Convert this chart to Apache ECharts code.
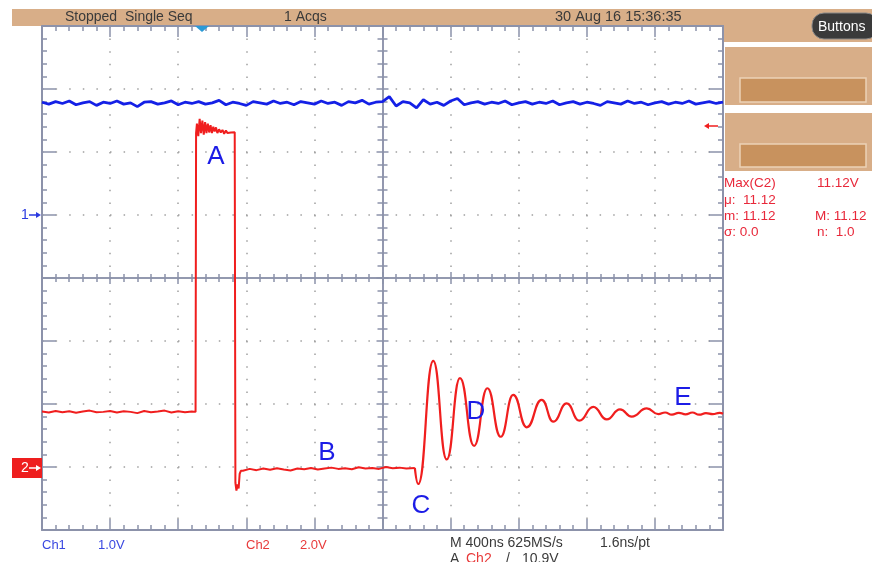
<!DOCTYPE html>
<html>
<head>
<meta charset="utf-8">
<script src="https://cdn.jsdelivr.net/npm/echarts@6/dist/echarts.min.js"></script>
<style>
  html, body { margin: 0; padding: 0; background: #fff; }
  #scope { width: 872px; height: 562px; }
</style>
</head>
<body>
<div id="scope"></div>
<script>
// horizontal: 400 ns/div, 10 div ; vertical: 8 div
const timeTicks = [0, 400, 800, 1200, 1600, 2000, 2400, 2800, 3200, 3600, 4000];
const sampleStep = 40; // ns between Ch1 samples

// Ch1 (1.0 V/div), volts, one value per 40 ns
const ch1Values = [
    1.79, 1.76, 1.80, 1.77, 1.81, 1.75, 1.78, 1.80, 1.74, 1.79,
    1.77, 1.81, 1.76, 1.78, 1.72, 1.79, 1.80, 1.76, 1.78, 1.81,
    1.75, 1.79, 1.77, 1.80, 1.76, 1.78, 1.82, 1.75, 1.79, 1.77,
    1.74, 1.80, 1.78, 1.76, 1.81, 1.77, 1.79, 1.75, 1.80, 1.78,
    1.76, 1.81, 1.77, 1.79, 1.74, 1.80, 1.78, 1.82, 1.76, 1.79,
    1.80, 1.88, 1.73, 1.80, 1.78, 1.70, 1.83, 1.76, 1.79, 1.74,
    1.81, 1.85, 1.75, 1.78, 1.80, 1.76, 1.79, 1.77, 1.81, 1.75,
    1.78, 1.80, 1.76, 1.79, 1.77, 1.81, 1.75, 1.78, 1.80, 1.76,
    1.79, 1.77, 1.74, 1.80, 1.78, 1.76, 1.81, 1.77, 1.79, 1.75,
    1.78, 1.80, 1.76, 1.79, 1.77, 1.81, 1.76, 1.78, 1.80, 1.77, 1.79
];

// Ch2 (2.0 V/div), [ns, V] : level before the pulse
const ch2Before = [
    [0, 1.76], [40, 1.73], [80, 1.78], [120, 1.74], [160, 1.77], [200, 1.72],
    [240, 1.76], [280, 1.79], [320, 1.74], [360, 1.75], [400, 1.78], [440, 1.73],
    [480, 1.77], [520, 1.75], [560, 1.71], [600, 1.78], [640, 1.74], [680, 1.76],
    [720, 1.79], [760, 1.73], [800, 1.77], [840, 1.74], [880, 1.76], [902, 1.75]
];
// pulse top (A) and the fall with its undershoot
const ch2Pulse = [
    [905, 10.6], [910, 10.9], [918, 10.5], [926, 11.05], [934, 10.6], [942, 11.0],
    [950, 10.55], [958, 10.95], [966, 10.6], [974, 10.9], [982, 10.62], [990, 10.85],
    [998, 10.6], [1006, 10.8], [1014, 10.65], [1022, 10.78], [1030, 10.6], [1040, 10.72],
    [1050, 10.62], [1060, 10.7], [1070, 10.58], [1080, 10.68], [1090, 10.6], [1100, 10.66],
    [1110, 10.62], [1120, 10.65], [1132, 10.63], [1136, -0.5], [1142, -0.75], [1149, -0.55],
    [1155, -0.68], [1161, -0.22], [1168, -0.12]
];
// flat level after the pulse (B)
const ch2After = [
    [1180, -0.12], [1220, -0.06], [1260, -0.10], [1300, -0.05], [1340, -0.09], [1380, -0.04],
    [1420, -0.08], [1460, -0.11], [1500, -0.05], [1540, -0.07], [1580, -0.03], [1620, -0.08],
    [1660, -0.05], [1700, -0.02], [1740, -0.06], [1780, -0.04], [1820, -0.07], [1860, -0.01],
    [1900, -0.05], [1940, -0.03], [1980, -0.06], [2020, 0.0], [2060, -0.04], [2100, -0.02],
    [2140, -0.05], [2190, -0.03]
];
// dip (C), ringing extremes (D) and settled level (E)
const ch2Ring = [
    [2190, -0.03], [2210, -0.54], [2298, 3.37], [2377, 0.24], [2455, 2.82], [2538, 0.67],
    [2616, 2.50], [2694, 0.96], [2768, 2.29], [2847, 1.26], [2935, 2.13], [3003, 1.44],
    [3082, 2.02], [3156, 1.47], [3238, 1.91], [3317, 1.51], [3395, 1.83], [3464, 1.60],
    [3552, 1.86], [3620, 1.68], [3660, 1.73], [3700, 1.66], [3740, 1.72], [3780, 1.67],
    [3820, 1.73], [3860, 1.66], [3900, 1.71], [3940, 1.68], [3980, 1.72], [4000, 1.69]
];

const ch1Data = ch1Values.map((v, i) => [i * sampleStep, v]);

const FONT = '"Liberation Sans", Arial, sans-serif';
const AXIS = '#8c92aa';
const RED = '#f01e1e';
const BLUE = '#1420e6';
const TAN = '#d8ae88';

function frameX(position, offset, inside, majorLen, minorLen, width) {
    return {
        type: 'value', min: 0, max: 4000, interval: 400, position: position, offset: offset,
        axisLine: { show: true, onZero: false, lineStyle: { color: AXIS, width: width } },
        axisTick: { show: true, inside: inside, length: majorLen, lineStyle: { color: AXIS, width: 1.5 } },
        minorTick: { show: true, splitNumber: 5, length: minorLen, lineStyle: { color: AXIS, width: 1.5 } },
        axisLabel: { show: false },
        splitLine: { show: false }
    };
}

function frameY(position, offset, inside, majorLen, minorLen, width) {
    return {
        type: 'value', min: -4, max: 4, interval: 1, position: position, offset: offset,
        axisLine: { show: true, onZero: false, lineStyle: { color: AXIS, width: width } },
        axisTick: { show: true, inside: inside, length: majorLen, lineStyle: { color: AXIS, width: 1.5 } },
        minorTick: { show: true, splitNumber: 5, length: minorLen, lineStyle: { color: AXIS, width: 1.5 } },
        axisLabel: { show: false },
        splitLine: { show: false }
    };
}

const xMain = frameX('bottom', 0, true, 11, 5, 2);
xMain.splitLine = { show: true, lineStyle: { color: '#a0a0a0', width: 1.5, type: [1.5, 11.1] } };
const yMain = frameY('left', 0, true, 14, 5, 2);
yMain.splitLine = { show: true, lineStyle: { color: '#a0a0a0', width: 1.5, type: [1.5, 12.1] } };

function txt(x, y, text, color, size, extra) {
    return {
        type: 'text', silent: true, z: 10,
        style: Object.assign({
            x: x, y: y, text: text, fill: color,
            font: size + 'px ' + FONT, textAlign: 'left', textVerticalAlign: 'middle'
        }, extra || {})
    };
}

const option = {
    animation: false,
    backgroundColor: '#ffffff',
    grid: { left: 42, top: 26, width: 681, height: 504 },
    xAxis: [
        xMain,
        frameX('top', 0, true, 11, 5, 2),
        frameX('bottom', -252, true, 6, 4, 1.5),
        frameX('bottom', -252, false, 6, 4, 1.5)
    ],
    yAxis: [
        yMain,
        frameY('right', 0, true, 14, 5, 2),
        frameY('left', -340.5, true, 6, 5, 1.5),
        frameY('left', -340.5, false, 6, 5, 1.5),
        { type: 'value', min: -5, max: 3, show: false },
        { type: 'value', min: -2, max: 14, show: false }
    ],
    series: [
        {
            name: 'Ch1', type: 'line', xAxisIndex: 0, yAxisIndex: 4, data: ch1Data,
            showSymbol: false, lineStyle: { color: BLUE, width: 2.8 }, z: 3
        },
        {
            name: 'Ch2', type: 'line', xAxisIndex: 0, yAxisIndex: 5,
            data: ch2Before.concat(ch2Pulse, ch2After),
            showSymbol: false, lineStyle: { color: RED, width: 2 }, z: 4
        },
        {
            name: 'Ch2 ring', type: 'line', xAxisIndex: 0, yAxisIndex: 5, data: ch2Ring,
            smooth: 0.5, smoothMonotone: 'x', showSymbol: false,
            lineStyle: { color: RED, width: 2.2 }, z: 4
        }
    ],
    graphic: [
        // status bar and side panel
        { type: 'rect', silent: true, shape: { x: 12, y: 9, width: 860, height: 17 }, style: { fill: TAN } },
        { type: 'rect', silent: true, shape: { x: 723, y: 9, width: 149, height: 33 }, style: { fill: TAN } },
        { type: 'rect', silent: true, shape: { x: 725, y: 47, width: 147, height: 58 }, style: { fill: TAN } },
        { type: 'rect', silent: true, shape: { x: 725, y: 113, width: 147, height: 58 }, style: { fill: TAN } },
        { type: 'rect', silent: true, shape: { x: 740, y: 78, width: 126, height: 24 }, style: { fill: '#c8925e', stroke: '#ecd2b6', lineWidth: 1.5 } },
        { type: 'rect', silent: true, shape: { x: 740, y: 144, width: 126, height: 23 }, style: { fill: '#c8925e', stroke: '#ecd2b6', lineWidth: 1.5 } },
        { type: 'rect', silent: true, shape: { x: 812, y: 13, width: 66, height: 26, r: 12 }, style: { fill: '#3a3a3a', stroke: '#888', lineWidth: 1 } },
        txt(818, 27, 'Buttons', '#ffffff', 14),
        txt(65, 17, 'Stopped  Single Seq', '#3a3a3a', 14),
        txt(284, 17, '1 Acqs', '#3a3a3a', 14),
        txt(555, 17, '30 Aug 16 15:36:35', '#3a3a3a', 14.5),
        // trigger position marker
        { type: 'polygon', silent: true, z: 10, shape: { points: [[195, 26], [209, 26], [202, 32]] }, style: { fill: '#2b9ad6' } },
        // channel markers
        txt(21, 215, '1', '#2a3ae0', 14),
        { type: 'line', silent: true, z: 10, shape: { x1: 29, y1: 215, x2: 37, y2: 215 }, style: { stroke: '#2a3ae0', lineWidth: 1.5 } },
        { type: 'polygon', silent: true, z: 10, shape: { points: [[36, 212], [41, 215], [36, 218]] }, style: { fill: '#2a3ae0' } },
        { type: 'rect', silent: true, z: 10, shape: { x: 12, y: 458, width: 30, height: 20 }, style: { fill: '#ee1e1e' } },
        txt(21, 468, '2', '#ffffff', 14),
        { type: 'line', silent: true, z: 11, shape: { x1: 29, y1: 468, x2: 37, y2: 468 }, style: { stroke: '#ffffff', lineWidth: 1.5 } },
        { type: 'polygon', silent: true, z: 11, shape: { points: [[36, 465], [41, 468], [36, 471]] }, style: { fill: '#ffffff' } },
        // trigger level marker
        { type: 'line', silent: true, z: 10, shape: { x1: 708, y1: 126, x2: 718, y2: 126 }, style: { stroke: RED, lineWidth: 1.5 } },
        { type: 'polygon', silent: true, z: 10, shape: { points: [[709, 123], [704, 126], [709, 129]] }, style: { fill: RED } },
        // measurements
        txt(724, 183, 'Max(C2)', '#e8283a', 13.5),
        txt(817, 183, '11.12V', '#e8283a', 13.5),
        txt(724, 200, 'μ:  11.12', '#e8283a', 13.5),
        txt(724, 216, 'm: 11.12', '#e8283a', 13.5),
        txt(815, 216, 'M: 11.12', '#e8283a', 13.5),
        txt(724, 232, 'σ: 0.0', '#e8283a', 13.5),
        txt(817, 232, 'n:  1.0', '#e8283a', 13.5),
        // bottom read-outs
        txt(42, 545, 'Ch1', '#3a48e0', 13),
        txt(98, 545, '1.0V', '#3a48e0', 13),
        txt(246, 545, 'Ch2', '#e83a3a', 13),
        txt(300, 545, '2.0V', '#e83a3a', 13),
        txt(450, 543, 'M 400ns 625MS/s', '#3a3a3a', 14),
        txt(600, 543, '1.6ns/pt', '#3a3a3a', 14),
        txt(450, 559, 'A', '#3a3a3a', 14),
        txt(466, 559, 'Ch2', '#e83a3a', 14),
        txt(506, 559, '/', '#3a3a3a', 14),
        txt(522, 559, '10.9V', '#3a3a3a', 14),
        // annotation letters
        txt(216, 157, 'A', '#1c1ce6', 26, { textAlign: 'center' }),
        txt(327, 453, 'B', '#1c1ce6', 26, { textAlign: 'center' }),
        txt(421, 506, 'C', '#1c1ce6', 26, { textAlign: 'center' }),
        txt(476, 412, 'D', '#1c1ce6', 26, { textAlign: 'center' }),
        txt(683, 398, 'E', '#1c1ce6', 26, { textAlign: 'center' })
    ]
};

const chart = echarts.init(document.getElementById('scope'));
chart.setOption(option);
window.addEventListener('resize', () => chart.resize());
</script>
</body>
</html>
